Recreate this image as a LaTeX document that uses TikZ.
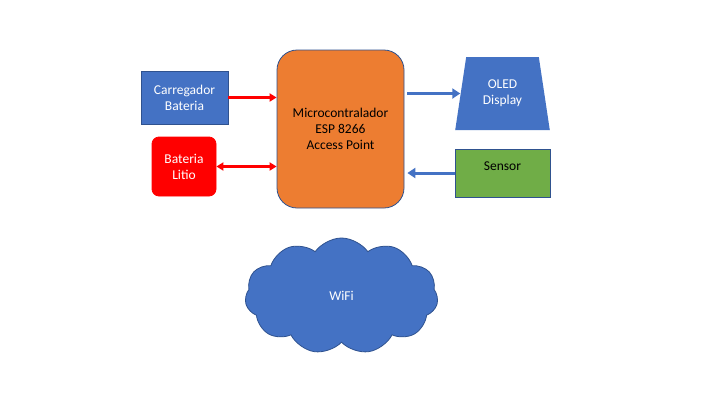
\documentclass[tikz,border=0pt]{standalone}
\usepackage{fontspec}
\setmainfont{Carlito}
\usetikzlibrary{shapes.geometric,shapes.symbols,arrows.meta}
\definecolor{oblue}{HTML}{4472C4}
\definecolor{dblue}{HTML}{2F528F}
\definecolor{oorange}{HTML}{ED7D31}
\definecolor{ogreen}{HTML}{70AD47}
\definecolor{ored}{HTML}{FF0000}
\tikzset{
  box/.style={draw=dblue, line width=0.8pt, align=center, inner sep=0pt, font=\fontsize{13.5}{16}\selectfont},
  redarrow/.style={draw=ored, line width=2.2pt, -{Triangle[length=7pt,width=8pt]}},
  redboth/.style={draw=ored, line width=2.2pt, {Triangle[length=7pt,width=8pt]}-{Triangle[length=7pt,width=8pt]}},
  bluearrow/.style={draw=oblue, line width=3pt, -{Triangle[length=8pt,width=10pt]}},
}
\begin{document}
\begin{tikzpicture}[x=1pt,y=-1pt]
\useasboundingbox[fill=white] (0,0) rectangle (720,405);
\node[box, fill=oblue, text=white, minimum width=87pt, minimum height=53pt] (charger) at (184.5,97.5) {Carregador\\Bateria};
\node[box, draw=ored, fill=ored, text=white, rounded corners=7pt, minimum width=64pt, minimum height=59pt] (bat) at (184,166.5) {Bateria\\Litio};
\node[box, fill=oorange, text=black, rounded corners=20pt, minimum width=127pt, minimum height=158pt] (mcu) at (340.5,129) {Microcontralador\\ESP 8266\\Access Point};
\node[box, draw=none, fill=oblue, text=white, trapezium, trapezium stretches=true, trapezium left angle=77.6, trapezium right angle=77.6, minimum width=95pt, minimum height=73pt] (oled) at (502.5,93.5) {OLED\\Display};
\node[box, fill=ogreen, text=black, minimum width=95pt, minimum height=48pt, text height=9.5pt, text depth=14pt] (sensor) at (502.5,173) {Sensor};
\node[box, cloud, cloud puffs=11, cloud puff arc=110, aspect=1.8, fill=oblue, text=white, minimum width=193pt, minimum height=116pt] (wifi) at (341.5,296) {WiFi};
\draw[redarrow] (charger.east) -- (charger.east -| mcu.west);
\draw[redboth] (bat.east) -- (bat.east -| mcu.west);
\coordinate (mo) at ([xshift=3pt]mcu.east |- oled.west);
\draw[bluearrow] (mo) -- (oled.west);
\coordinate (ms) at ([xshift=3pt]mcu.east |- sensor.west);
\draw[bluearrow] (sensor.west) -- (ms);
\end{tikzpicture}
\end{document}
